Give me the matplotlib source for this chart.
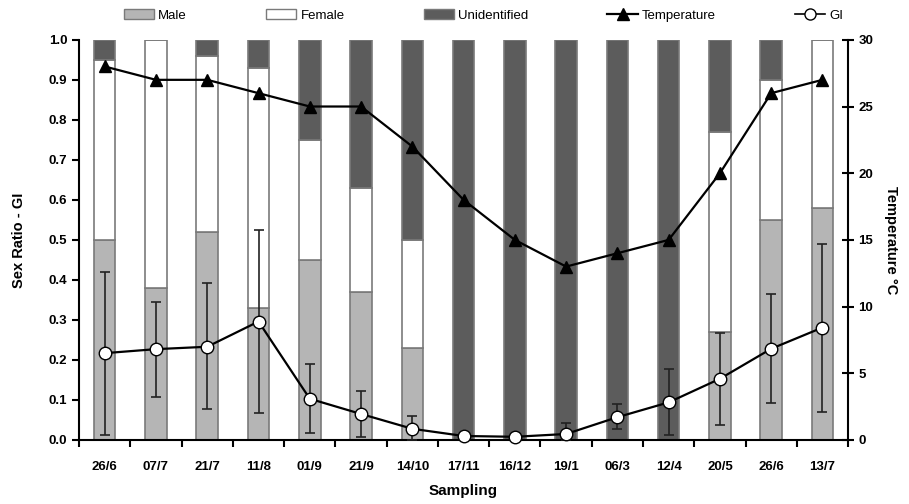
import matplotlib
matplotlib.use('Agg')
import matplotlib.pyplot as plt
import numpy as np
from matplotlib.patches import Patch
from matplotlib.lines import Line2D

plt.rcParams['font.family'] = ['Liberation Sans', 'DejaVu Sans']
plt.rcParams['font.weight'] = 'bold'

# sampling dates
dates = ['26/6', '07/7', '21/7', '11/8', '01/9', '21/9', '14/10', '17/11',
         '16/12', '19/1', '06/3', '12/4', '20/5', '26/6', '13/7']

# sex ratio fractions (stacked)
male = [0.50, 0.38, 0.52, 0.33, 0.45, 0.37, 0.23, 0, 0, 0, 0, 0, 0.27, 0.55, 0.58]
female = [0.45, 0.62, 0.44, 0.60, 0.30, 0.26, 0.27, 0, 0, 0, 0, 0, 0.50, 0.35, 0.42]
unident = [0.05, 0.00, 0.04, 0.07, 0.25, 0.37, 0.50, 1, 1, 1, 1, 1, 0.23, 0.10, 0.00]

# gonadal index with error bar ends
gi = [0.217, 0.227, 0.233, 0.296, 0.103, 0.065, 0.028, 0.010, 0.008, 0.015,
      0.057, 0.094, 0.153, 0.228, 0.281]
gi_hi = [0.419, 0.346, 0.392, 0.525, 0.189, 0.123, 0.061, 0.012, 0.010, 0.042,
         0.089, 0.177, 0.267, 0.364, 0.489]
gi_lo = [0.013, 0.107, 0.078, 0.068, 0.017, 0.008, 0.000, 0.008, 0.006, 0.000,
         0.028, 0.013, 0.038, 0.092, 0.071]

# temperature (degC)
temp = [28, 27, 27, 26, 25, 25, 22, 18, 15, 13, 14, 15, 20, 26, 27]

x = np.arange(len(dates))
male = np.array(male)
female = np.array(female)
unident = np.array(unident)
gi = np.array(gi)

c_male = '#b5b5b5'
c_fem = '#ffffff'
c_unid = '#5c5c5c'
edge = '#7a7a7a'

fig = plt.figure(figsize=(9.09, 5.04), dpi=100)
ax = fig.add_axes([0.087, 0.127, 0.846, 0.794])

w = 0.42
ax.bar(x, male, w, color=c_male, edgecolor=edge, linewidth=1.2, zorder=2)
ax.bar(x, female, w, bottom=male, color=c_fem, edgecolor=edge, linewidth=1.2, zorder=2)
ax.bar(x, unident, w, bottom=male + female, color=c_unid, edgecolor=edge, linewidth=1.2, zorder=2)

yerr = [gi - np.array(gi_lo), np.array(gi_hi) - gi]
ax.errorbar(x, gi, yerr=yerr, fmt='none', ecolor='#222222', elinewidth=1.2,
            capsize=3.5, capthick=1.2, zorder=3)
ax.plot(x, gi, '-o', color='black', lw=1.6, markersize=9, markerfacecolor='white',
        markeredgecolor='black', markeredgewidth=1.0, zorder=4, clip_on=False)

ax.set_xlim(-0.5, len(dates) - 0.5)
ax.set_ylim(0, 1.0)
ax.set_yticks(np.arange(0, 1.01, 0.1))
ax.set_yticklabels(['%.1f' % v for v in np.arange(0, 1.01, 0.1)])
ax.set_xticks(x)
ax.set_xticklabels(dates)
ax.set_xticks(np.arange(-0.5, len(dates), 1.0), minor=True)
ax.tick_params(axis='x', which='major', length=0, pad=15, labelsize=9.5)
ax.tick_params(axis='x', which='minor', length=5, width=1.5, direction='out')
ax.tick_params(axis='y', length=5, width=1.5, direction='out', labelsize=9.5)
for s in ['top', 'right']:
    ax.spines[s].set_visible(False)
ax.spines['left'].set_linewidth(1.5)
ax.spines['bottom'].set_linewidth(1.5)
ax.set_ylabel('Sex Ratio - GI', fontsize=10.5, fontweight='bold', labelpad=16)
ax.set_xlabel('Sampling', fontsize=11, fontweight='bold', labelpad=8)

ax2 = ax.twinx()
ax2.plot(x, temp, '-^', color='black', lw=1.6, markersize=8, zorder=5)
ax2.set_ylim(0, 30)
ax2.set_yticks(np.arange(0, 31, 5))
ax2.tick_params(axis='y', length=8, width=1.5, direction='inout', labelsize=9.5)
for s in ['top', 'left', 'bottom']:
    ax2.spines[s].set_visible(False)
ax2.spines['right'].set_linewidth(1.5)
ax2.set_ylabel('Temperature °C', fontsize=10.5, fontweight='bold', rotation=270, labelpad=18)

handles = [
    Patch(facecolor=c_male, edgecolor=edge, label='Male'),
    Patch(facecolor=c_fem, edgecolor=edge, label='Female'),
    Patch(facecolor=c_unid, edgecolor=edge, label='Unidentified'),
    Line2D([0], [0], color='black', marker='^', markersize=8, lw=1.6, label='Temperature'),
    Line2D([0], [0], color='black', marker='o', markersize=8, markerfacecolor='white',
           lw=1.2, label='GI'),
]
leg = fig.legend(handles=handles, loc='upper center', bbox_to_anchor=(0.532, 1.005), ncol=5,
                 frameon=False, fontsize=9.5, handlelength=2.3, handleheight=0.8,
                 columnspacing=6.0, handletextpad=0.3)
for t in leg.get_texts():
    t.set_fontweight('normal')

fig.savefig('out.png', dpi=100)
